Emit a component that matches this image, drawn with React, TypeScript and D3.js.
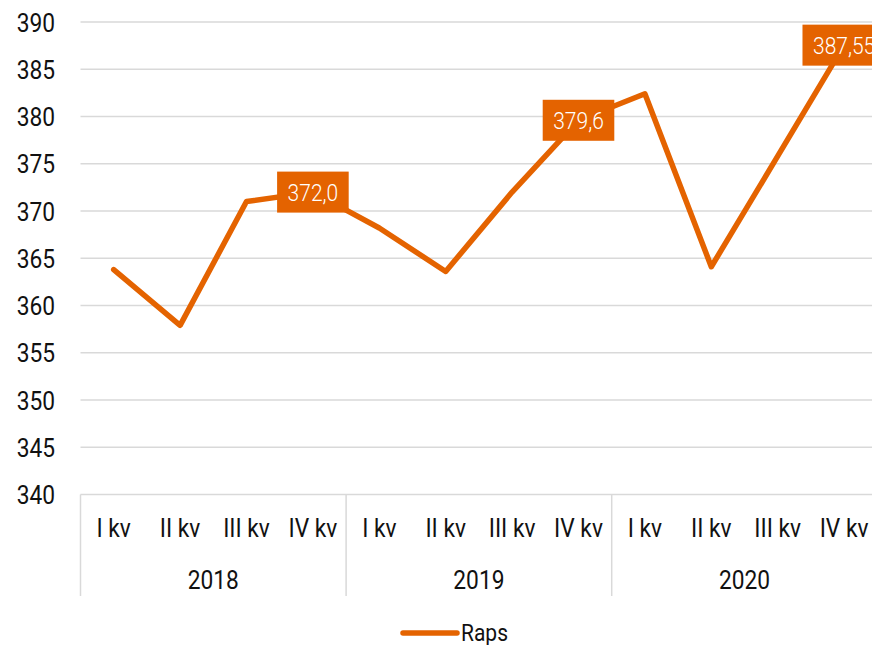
import React, { useEffect, useRef } from "react";
import * as d3 from "d3";

const quarters = ["I kv", "II kv", "III kv", "IV kv", "I kv", "II kv", "III kv", "IV kv", "I kv", "II kv", "III kv", "IV kv"];
const years = ["2018", "2019", "2020"];
const values = [363.8, 357.9, 371.0, 372.0, 368.2, 363.6, 372.0, 379.6, 382.4, 364.1, 375.8, 387.55];
const labelled = [3, 7, 11];
const labelTexts = ["372,0", "379,6", "387,55"];
const yTicks = [340, 345, 350, 355, 360, 365, 370, 375, 380, 385, 390];
const seriesName = "Raps";

const W = 872;
const H = 645;
const ORANGE = "#E46300";
const FONT = "Roboto, 'Noto Sans', sans-serif";
const SX = 0.875;

export default function App() {
  const ref = useRef<SVGSVGElement | null>(null);

  useEffect(() => {
    const svg = d3.select(ref.current);
    svg.selectAll("*").remove();

    const left = 80.5;
    const catW = 66.4;
    const x = d3.scaleBand<number>().domain(d3.range(quarters.length)).range([left, left + catW * quarters.length]).padding(0);
    const y = d3.scaleLinear().domain([340, 390]).range([494.5, 22]);
    const cx = (i: number) => (x(i) as number) + x.bandwidth() / 2;
    const right = left + catW * quarters.length;

    const txt = (g: any, tx: number, ty: number, s: string, anchor: string, size: number, fill: string, weight = 400) =>
      g.append("text")
        .attr("transform", `translate(${tx},${ty}) scale(${SX},1)`)
        .attr("text-anchor", anchor)
        .attr("font-family", FONT)
        .attr("font-size", size)
        .attr("font-weight", weight)
        .attr("fill", fill)
        .text(s);

    // gridlines
    const grid = svg.append("g");
    yTicks.forEach((t) => {
      if (t === 340) return;
      grid.append("line").attr("x1", left).attr("x2", right).attr("y1", y(t)).attr("y2", y(t))
        .attr("stroke", "#d9d9d9").attr("stroke-width", 1.5);
    });
    // axis line
    grid.append("line").attr("x1", left).attr("x2", right).attr("y1", y(340)).attr("y2", y(340))
      .attr("stroke", "#d9d9d9").attr("stroke-width", 1.5);
    // group separators
    for (let k = 0; k <= years.length; k++) {
      const xx = left + catW * 4 * k;
      grid.append("line").attr("x1", xx).attr("x2", xx).attr("y1", y(340)).attr("y2", 596)
        .attr("stroke", "#d9d9d9").attr("stroke-width", 1.5);
    }

    // y tick labels
    yTicks.forEach((t) => txt(svg, 55, y(t) + 9.5, String(t), "end", 26, "#111"));

    // category labels
    quarters.forEach((q, i) => txt(svg, cx(i), 537, q, "middle", 26, "#111"));
    years.forEach((yr, k) => txt(svg, left + catW * (4 * k + 2), 589, yr, "middle", 26, "#111"));

    // line
    const line = d3.line<number>().x((_, i) => cx(i)).y((d) => y(d));
    svg.append("path").attr("d", line(values) as string).attr("fill", "none")
      .attr("stroke", ORANGE).attr("stroke-width", 5.5)
      .attr("stroke-linejoin", "round").attr("stroke-linecap", "round");

    // data labels
    labelled.forEach((idx, j) => {
      const g = svg.append("g");
      const px = cx(idx);
      const py = y(values[idx]);
      const t = txt(g, px, py + 8.5, labelTexts[j], "middle", 24, "#fff", 300);
      const tw = (t.node() as SVGTextElement).getComputedTextLength() * SX;
      const bw = tw + 21;
      g.insert("rect", "text").attr("x", px - bw / 2).attr("y", py - 20.5).attr("width", bw).attr("height", 41)
        .attr("fill", ORANGE);
    });

    // legend
    svg.append("line").attr("x1", 403).attr("x2", 457).attr("y1", 633).attr("y2", 633)
      .attr("stroke", ORANGE).attr("stroke-width", 5.5).attr("stroke-linecap", "round");
    txt(svg, 461, 641, seriesName, "start", 24, "#111");
  }, []);

  return (
    <svg ref={ref} width={W} height={H} style={{ position: "absolute", left: 0, top: 0, background: "#fff" }} />
  );
}
